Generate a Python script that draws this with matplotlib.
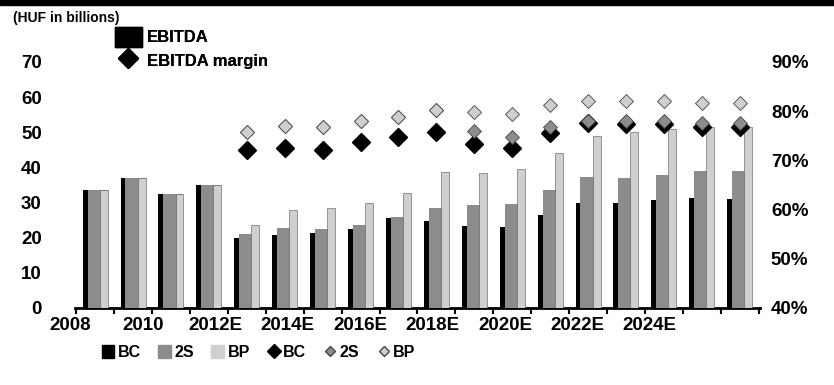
import numpy as np
import matplotlib
matplotlib.use("Agg")
import matplotlib.pyplot as plt
import matplotlib.patches as mpatches
from matplotlib.lines import Line2D

plt.rcParams["font.family"] = ["Liberation Sans", "DejaVu Sans"]
plt.rcParams["font.weight"] = "bold"

# ---- data ----
years = ["2008", "2009", "2010", "2011", "2012E", "2013E", "2014E", "2015E", "2016E",
         "2017E", "2018E", "2019E", "2020E", "2021E", "2022E", "2023E", "2024E", "2025E"]
tick_labels = ["2008", "2010", "2012E", "2014E", "2016E", "2018E", "2020E", "2022E", "2024E"]

ebitda_bc = [33.5, 37.0, 32.5, 35.0, 20.0, 20.7, 21.2, 22.4, 25.5, 24.7, 23.2, 23.0,
             26.4, 30.0, 30.0, 30.6, 31.2, 31.0]
ebitda_2s = [33.5, 37.0, 32.5, 35.0, 21.0, 22.7, 22.5, 23.5, 26.0, 28.4, 29.3, 29.6,
             33.5, 37.3, 37.0, 37.8, 39.0, 39.0]
ebitda_bp = [33.5, 37.0, 32.5, 35.0, 23.5, 27.8, 28.4, 29.8, 32.7, 38.6, 38.3, 39.5,
             44.0, 49.0, 50.0, 51.0, 51.5, 51.5]

nan = np.nan
margin_bc = [nan, nan, nan, nan, 72.2, 72.6, 72.2, 73.7, 74.7, 75.7, 73.3, 72.6,
             75.5, 77.7, 77.3, 77.3, 76.7, 76.7]
margin_2s = [nan, nan, nan, nan, 75.7, 77.0, 76.7, 78.0, 78.8, 80.3, 76.0, 74.7,
             76.7, 78.0, 78.0, 78.0, 77.7, 77.7]
margin_bp = [nan, nan, nan, nan, 75.7, 77.0, 76.7, 78.0, 78.8, 80.3, 79.8, 79.4,
             81.2, 82.0, 82.0, 82.0, 81.7, 81.7]

C_BC = "#000000"
C_2S = "#8c8c8c"
C_BP = "#cfcfcf"

fig = plt.figure(figsize=(8.34, 3.85), dpi=100)
ax = fig.add_axes([0.09, 0.2, 0.821, 0.639])
x = np.arange(len(years))

# stepped, overlapping bars: BC full width, 2S offset, BP narrow on the right
left = x - 0.33
ax.bar(left, ebitda_bc, width=0.66, align="edge", color=C_BC, zorder=2)
ax.bar(left + 0.13, ebitda_2s, width=0.53, align="edge", color=C_2S, zorder=3)
ax.bar(left + 0.45, ebitda_bp, width=0.21, align="edge", color=C_BP,
       edgecolor="#555555", linewidth=0.4, zorder=4)

ax.set_xlim(-0.53, 17.53)
ax.set_ylim(0, 70)
ax.set_yticks(range(0, 71, 10))
ax.tick_params(axis="y", length=0, pad=24, labelsize=13.5)
for s in ["top", "right", "left"]:
    ax.spines[s].set_visible(False)
ax.spines["bottom"].set_linewidth(2)

# tick marks at category boundaries, labels every second year
ax.set_xticks(np.arange(-0.5, 18, 1.0))
ax.set_xticklabels([])
ax.tick_params(axis="x", length=4, width=1.5, direction="out")
for i, lab in enumerate(tick_labels):
    xpos = 2 * i * 0.955 - 0.65
    ax.text(xpos, -2.6, lab, ha="center", va="top", fontsize=13.5,
            fontweight="bold", transform=ax.transData)

# EBITDA margin on secondary axis
ax2 = ax.twinx()
ax2.set_ylim(40, 90)
ax2.set_yticks(range(40, 91, 10))
ax2.set_yticklabels([f"{v}%" for v in range(40, 91, 10)])
ax2.tick_params(axis="y", length=0, pad=8, labelsize=13.5)
for s in ["top", "right", "left", "bottom"]:
    ax2.spines[s].set_visible(False)
ax2.plot(x, margin_bc, "D", color=C_BC, markersize=9, zorder=5)
ax2.plot(x, margin_2s, "D", color=C_2S, markeredgecolor="#444444",
         markeredgewidth=0.6, markersize=7.5, zorder=6)
ax2.plot(x, margin_bp, "D", color=C_BP, markeredgecolor="#444444",
         markeredgewidth=0.6, markersize=7.5, zorder=7)

# header strip and unit label
fig.patches.append(mpatches.Rectangle((0, 0.988), 1, 0.012, transform=fig.transFigure,
                                      color="black", zorder=10))
fig.text(0.016, 0.952, "(HUF in billions)", fontsize=10, fontweight="bold", va="center")

# top-left key
top_handles = [
    mpatches.Patch(color="black", label="EBITDA"),
    Line2D([], [], marker="D", color="black", linestyle="", markersize=10,
           label="EBITDA margin"),
]
leg1 = fig.legend(handles=top_handles, loc="upper left", bbox_to_anchor=(0.12, 0.968),
                  frameon=False, fontsize=12, handlelength=1.6, handleheight=1.4,
                  labelspacing=0.25, handletextpad=0.3)

# bottom key
bottom_handles = [
    mpatches.Patch(color=C_BC, label="BC"),
    mpatches.Patch(color=C_2S, label="2S"),
    mpatches.Patch(color=C_BP, label="BP"),
    Line2D([], [], marker="D", color=C_BC, linestyle="", markersize=7, label="BC"),
    Line2D([], [], marker="D", color=C_2S, markeredgecolor="#444444", linestyle="",
           markersize=5, label="2S"),
    Line2D([], [], marker="D", color=C_BP, markeredgecolor="#444444", linestyle="",
           markersize=5, label="BP"),
]
fig.legend(handles=bottom_handles, loc="center", bbox_to_anchor=(0.31, 0.085),
           ncol=6, frameon=False, fontsize=11.5, handlelength=0.8, handleheight=0.9,
           handletextpad=0.2, columnspacing=1.1)
fig.add_artist(leg1)

fig.savefig("out.png", dpi=100)
